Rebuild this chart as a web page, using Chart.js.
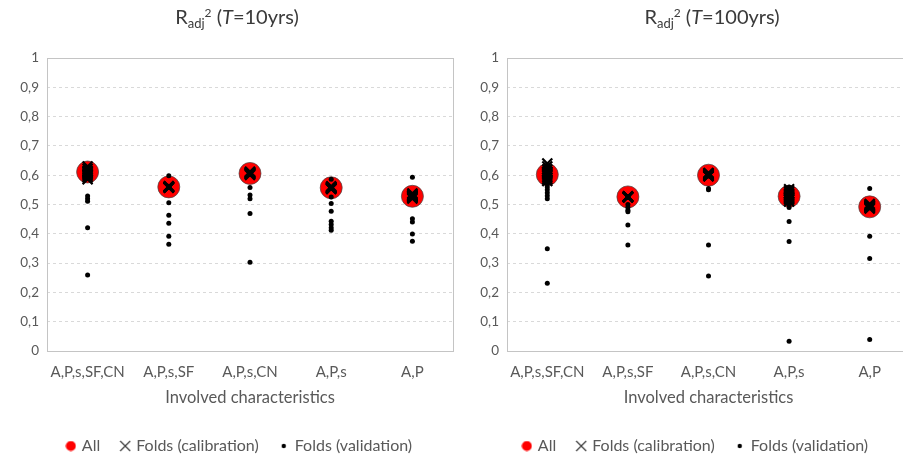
<!DOCTYPE html>
<html>
<head>
<meta charset="utf-8">
<script src="https://cdn.jsdelivr.net/npm/chart.js@4.4.1/dist/chart.umd.min.js"></script>
<style>
  html, body { margin: 0; padding: 0; width: 903px; height: 460px; overflow: hidden; background: #fff; }
  .panel { position: absolute; top: 0; }
</style>
</head>
<body>
<div class="panel" style="left:0px"><canvas id="c10" width="480" height="464" style="width:480px;height:464px"></canvas></div>
<div class="panel" style="left:470px"><canvas id="c100" width="452" height="464" style="width:452px;height:464px"></canvas></div>
<script>
// categories (x axis)
const categories = ['A,P,s,SF,CN', 'A,P,s,SF', 'A,P,s,CN', 'A,P,s', 'A,P'];
const seriesNames = ['All', 'Folds (calibration)', 'Folds (validation)'];

// T = 10 yrs
const all10 = [0.611, 0.560, 0.606, 0.557, 0.528];
const cal10 = [
  [0.630, 0.622, 0.615, 0.610, 0.606, 0.602, 0.598, 0.592, 0.586, 0.612],
  [0.562, 0.560, 0.559, 0.558, 0.561, 0.557, 0.560, 0.562, 0.559, 0.558],
  [0.612, 0.609, 0.606, 0.603, 0.608, 0.607, 0.604, 0.601, 0.610, 0.605],
  [0.562, 0.560, 0.558, 0.556, 0.554, 0.553, 0.557, 0.559, 0.555, 0.556],
  [0.538, 0.535, 0.532, 0.530, 0.527, 0.524, 0.520, 0.528, 0.531, 0.525]
];
const val10 = [
  [0.529, 0.520, 0.511, 0.421, 0.259, 0.610, 0.612, 0.608, 0.615, 0.605],
  [0.598, 0.506, 0.463, 0.436, 0.392, 0.364, 0.560, 0.558, 0.562, 0.559],
  [0.558, 0.532, 0.520, 0.469, 0.303, 0.606, 0.608, 0.604, 0.603, 0.609],
  [0.586, 0.526, 0.503, 0.477, 0.443, 0.432, 0.421, 0.412, 0.557, 0.555],
  [0.593, 0.451, 0.440, 0.399, 0.375, 0.528, 0.530, 0.526, 0.531, 0.527]
];

// T = 100 yrs
const all100 = [0.602, 0.526, 0.600, 0.528, 0.492];
const cal100 = [
  [0.640, 0.630, 0.620, 0.612, 0.604, 0.598, 0.592, 0.586, 0.580, 0.608],
  [0.528, 0.527, 0.526, 0.525, 0.527, 0.524, 0.526, 0.525, 0.526, 0.527],
  [0.608, 0.605, 0.602, 0.599, 0.596, 0.603, 0.606, 0.598, 0.600, 0.597],
  [0.552, 0.545, 0.538, 0.531, 0.524, 0.517, 0.510, 0.527, 0.534, 0.520],
  [0.502, 0.499, 0.496, 0.493, 0.490, 0.486, 0.495, 0.489, 0.497, 0.492]
];
const val100 = [
  [0.570, 0.560, 0.550, 0.540, 0.530, 0.520, 0.349, 0.231, 0.600, 0.605],
  [0.490, 0.480, 0.475, 0.430, 0.362, 0.500, 0.526, 0.525, 0.527, 0.524],
  [0.555, 0.550, 0.362, 0.256, 0.600, 0.598, 0.603, 0.601, 0.597, 0.602],
  [0.560, 0.490, 0.442, 0.374, 0.033, 0.528, 0.530, 0.526, 0.531, 0.500],
  [0.555, 0.392, 0.316, 0.039, 0.492, 0.494, 0.490, 0.495, 0.489, 0.493]
];

const FONT = 'Lato, "Open Sans", sans-serif';
const GREY = '#595959';

// small legend icons with their own sizes
function icon(w, h, draw) {
  const c = document.createElement('canvas');
  c.width = w; c.height = h;
  draw(c.getContext('2d'));
  return c;
}
const legendIcons = [
  icon(11, 11, g => { g.fillStyle = '#ff0000'; g.beginPath(); g.arc(5.5, 5.5, 5, 0, Math.PI * 2); g.fill(); }),
  icon(12, 12, g => { g.strokeStyle = '#404040'; g.lineWidth = 1.3; g.beginPath();
    g.moveTo(1, 1); g.lineTo(11, 11); g.moveTo(11, 1); g.lineTo(1, 11); g.stroke(); }),
  icon(6, 6, g => { g.fillStyle = '#000'; g.beginPath(); g.arc(3, 3, 2.2, 0, Math.PI * 2); g.fill(); })
];

const toPoints = (vals) => vals.map((v, i) => ({ x: categories[i], y: v }));
const toFoldPoints = (folds) => folds.flatMap((arr, i) => arr.map(v => ({ x: categories[i], y: v })));

const panelDecor = {
  id: 'panelDecor',
  beforeDatasetsDraw(chart) {
    const { ctx, chartArea: a } = chart;
    ctx.save();
    ctx.strokeStyle = '#c4c4c4';
    ctx.lineWidth = 1;
    ctx.strokeRect(Math.round(a.left) + 0.5, Math.round(a.top) + 0.5, Math.round(a.width), Math.round(a.height));
    ctx.restore();
  },
  afterDraw(chart, args, opts) {
    const ctx = chart.ctx;
    const parts = [
      { t: 'R', f: '20px ' + FONT, dy: 0 },
      { t: 'adj', f: '13px ' + FONT, dy: 4 },
      { t: '2', f: '12px ' + FONT, dy: -7 },
      { t: ' (', f: '20px ' + FONT, dy: 0 },
      { t: 'T', f: 'italic 20px ' + FONT, dy: 0 },
      { t: '=' + opts.period + 'yrs)', f: '20px ' + FONT, dy: 0 }
    ];
    ctx.save();
    ctx.fillStyle = '#3a3a3a';
    ctx.textBaseline = 'alphabetic';
    let total = 0;
    parts.forEach(p => { ctx.font = p.f; p.w = ctx.measureText(p.t).width; total += p.w; });
    let x = opts.x - total / 2;
    parts.forEach(p => { ctx.font = p.f; ctx.fillText(p.t, x, opts.y + p.dy); x += p.w; });
    ctx.restore();
  }
};

function makeChart(id, allVals, calVals, valVals, period, yWidth, rightWidth, titleX) {
  const ctx = document.getElementById(id);
  return new Chart(ctx, {
    type: 'line',
    data: {
      labels: categories,
      datasets: [
        {
          label: seriesNames[0],
          data: toPoints(allVals),
          showLine: false,
          pointStyle: 'circle',
          pointRadius: 11,
          backgroundColor: '#ff0000',
          borderColor: 'rgba(70,70,70,0.7)',
          pointBorderWidth: 1,
          order: 3
        },
        {
          label: seriesNames[1],
          data: toFoldPoints(calVals),
          showLine: false,
          pointStyle: 'crossRot',
          pointRadius: 7,
          borderColor: '#000',
          backgroundColor: '#000',
          pointBorderWidth: 2.2,
          order: 2
        },
        {
          label: seriesNames[2],
          data: toFoldPoints(valVals),
          showLine: false,
          pointStyle: 'circle',
          pointRadius: 2.5,
          borderColor: '#000',
          backgroundColor: '#000',
          pointBorderWidth: 0,
          order: 1
        }
      ]
    },
    options: {
      responsive: false,
      animation: false,
      events: [],
      layout: { padding: { top: 58, left: 0, right: 0, bottom: 0 } },
      plugins: {
        title: { display: false },
        tooltip: { enabled: false },
        panelDecor: { period: period, x: titleX, y: 24 },
        legend: {
          position: 'bottom',
          labels: {
            usePointStyle: true,
            pointStyleWidth: 6,
            padding: 22,
            color: GREY,
            font: { family: FONT, size: 16 },
            sort: (a, b) => a.datasetIndex - b.datasetIndex,
            generateLabels: (chart) => Chart.defaults.plugins.legend.labels.generateLabels(chart)
              .map(l => Object.assign(l, { pointStyle: legendIcons[l.datasetIndex] }))
          }
        }
      },
      scales: {
        x: {
          type: 'category',
          offset: true,
          grid: { display: false, drawTicks: false },
          border: { display: false },
          ticks: { color: GREY, font: { family: FONT, size: 15 }, padding: 12, maxRotation: 0, autoSkip: false },
          title: { display: true, text: 'Involved characteristics', color: GREY,
                   font: { family: FONT, size: 16.5 }, padding: { top: 0, bottom: 8 } },
          afterFit: (s) => { s.height = 65; }
        },
        y: {
          min: 0,
          max: 1,
          ticks: {
            stepSize: 0.1,
            color: GREY,
            padding: 8,
            font: { family: FONT, size: 13.5 },
            callback: (v) => String(Math.round(v * 10) / 10).replace('.', ',')
          },
          grid: {
            drawTicks: false,
            color: (c) => (c.tick && (c.tick.value === 0 || c.tick.value === 1)) ? 'rgba(0,0,0,0)' : '#d9d9d9'
          },
          border: { display: false, dash: [3, 3] },
          afterFit: (s) => { s.width = yWidth; }
        },
        yR: {
          position: 'right',
          display: true,
          grid: { display: false, drawTicks: false },
          border: { display: false },
          ticks: { display: false },
          afterFit: (s) => { s.width = rightWidth; }
        }
      }
    },
    plugins: [panelDecor]
  });
}

makeChart('c10', all10, cal10, val10, '10', 47, 27, 237);
makeChart('c100', all100, cal100, val100, '100', 37, 8, 242);
</script>
</body>
</html>
